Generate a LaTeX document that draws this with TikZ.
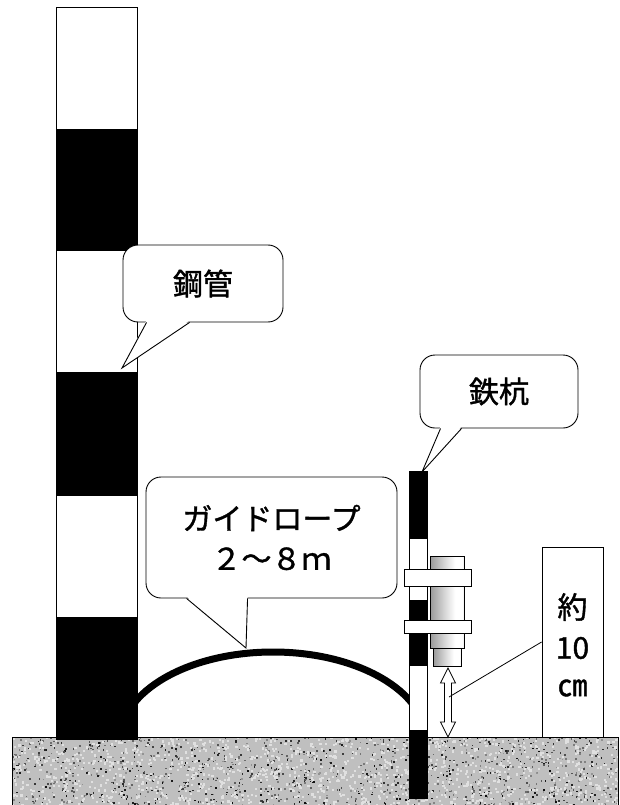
\documentclass[tikz,border=0pt]{standalone}
\usepackage{fontspec}
\setmainfont{Noto Sans CJK JP}
\newfontfamily\jpfont{Noto Sans CJK JP}[FakeBold=1.2]
\usetikzlibrary{calc}
\pgfdeclarehorizontalshading{cylshade}{100bp}{
  color(0bp)=(black!55); color(25bp)=(black!40); color(50bp)=(black!12);
  color(62bp)=(white); color(72bp)=(white); color(75bp)=(black!8); color(100bp)=(black!8)}
\tikzset{
  outline/.style={draw=black, line width=0.8pt},
  bubble/.style={draw=black, fill=white, line width=0.9pt, rounded corners=15pt,
    inner sep=0pt, font=\jpfont\fontsize{30}{40}\selectfont, align=center},
  tailfill/.style={fill=white},
  tailline/.style={draw=black, line width=0.9pt},
  labelbox/.style={draw=black, fill=white, line width=0.9pt, inner sep=0pt,
    minimum width=61pt, minimum height=190pt},
  lbltext/.style={font=\jpfont\fontsize{30}{30}\selectfont, inner sep=0pt},
  rope/.style={line width=7pt, black},
  leader/.style={draw=black, line width=0.8pt},
}
\begin{document}
\begin{tikzpicture}[x=1pt, y=-1pt]
\useasboundingbox (0,0) rectangle (620,805);

% ground with granite speckle
\fill[black!25] (12,737) rectangle (618,806);
\pgfmathsetseed{4}
\begin{scope}
\clip (12,737) rectangle (618,806);
\foreach \i in {1,...,1200}{
  \pgfmathsetmacro\px{12+606*rnd}
  \pgfmathsetmacro\py{737+69*rnd}
  \pgfmathsetmacro\sh{40+55*rnd}
  \fill[black!\sh] (\px,\py) rectangle +(1.6,1.6);
}
\foreach \i in {1,...,1200}{
  \pgfmathsetmacro\px{12+606*rnd}
  \pgfmathsetmacro\py{737+69*rnd}
  \fill[black!12] (\px,\py) rectangle +(2.2,2.2);
}
\end{scope}
\draw[line width=0.9pt] (12,806) -- (12,737) -- (618,737) -- (618,806);

% guide rope between the pipe and the stake
\begin{scope}
\clip (137,600) rectangle (410,737);
\draw[rope] (273,740) ellipse [x radius=153, y radius=88];
\end{scope}

% steel pipe, striped
\foreach \y/\c in {7/white,130/black,250/white,372/black,495/white,617/black}{
  \pgfmathsetmacro\yy{\y+122}
  \filldraw[fill=\c, outline] (56,\y) rectangle (137,\yy);
}

% iron stake, striped
\foreach \a/\b/\c in {471/538/black,538/600/white,600/665/black,665/730/white,730/798/black}{
  \filldraw[fill=\c, outline] (409,\a) rectangle (427,\b);
}

% clamp cylinder on the stake
\shade[shading=cylshade] (430,556) rectangle (464,648);
\draw[outline] (430,556) rectangle (464,648);
\shade[shading=cylshade] (433,648) rectangle (461,666);
\draw[outline] (433,648) rectangle (461,666);
\filldraw[fill=white, outline] (404,569) rectangle (471,586);
\filldraw[fill=white, outline] (404,620) rectangle (471,633);

% hollow double arrow for the height
\filldraw[fill=white, outline] (448,668) -- (455.5,683) -- (451.5,683) -- (451.5,722) -- (455.5,722)
  -- (448,737) -- (440.5,722) -- (444.5,722) -- (444.5,683) -- (440.5,683) -- cycle;
\coordinate (arr-mid) at (449,697);

% height label box
\node[labelbox] (lbl-10cm) at (572.5,642) {};
\node[lbltext] (t-yaku) at (572.5,607) {約};
\node[lbltext] (t-10) at (572.5,648) {10};
\node[lbltext] (t-cm) at (572.5,688) {㎝};
\draw[leader] (arr-mid) -- (lbl-10cm.west);

% callout: steel pipe
\node[bubble, minimum width=160pt, minimum height=77pt] (c-kokan) at (203,283.5) {鋼管};
\coordinate (tip-kokan) at (122,368);
\fill[tailfill] ($(c-kokan.south west)+(24,-2)$) -- (tip-kokan) -- ($(c-kokan.south west)+(67,-2)$) -- cycle;
\draw[tailline] ($(c-kokan.south west)+(24,0)$) -- (tip-kokan) -- ($(c-kokan.south west)+(67,0)$);

% callout: guide rope
\node[bubble, minimum width=251pt, minimum height=121pt] (c-rope) at (271.5,537.5) {ガイドロープ\\２〜８ｍ};
\coordinate (tip-rope) at (246,648);
\fill[tailfill] ($(c-rope.south west)+(41,-2)$) -- (tip-rope) -- ($(c-rope.south west)+(102,-2)$) -- cycle;
\draw[tailline] ($(c-rope.south west)+(41,0)$) -- (tip-rope) -- ($(c-rope.south west)+(102,0)$);

% callout: iron stake
\node[bubble, minimum width=158pt, minimum height=73pt] (c-kui) at (499,391.5) {鉄杭};
\coordinate (tip-kui) at (422,472);
\fill[tailfill] ($(c-kui.south west)+(21,-2)$) -- (tip-kui) -- ($(c-kui.south west)+(42,-2)$) -- cycle;
\draw[tailline] ($(c-kui.south west)+(21,0)$) -- (tip-kui) -- ($(c-kui.south west)+(42,0)$);
\end{tikzpicture}
\end{document}
